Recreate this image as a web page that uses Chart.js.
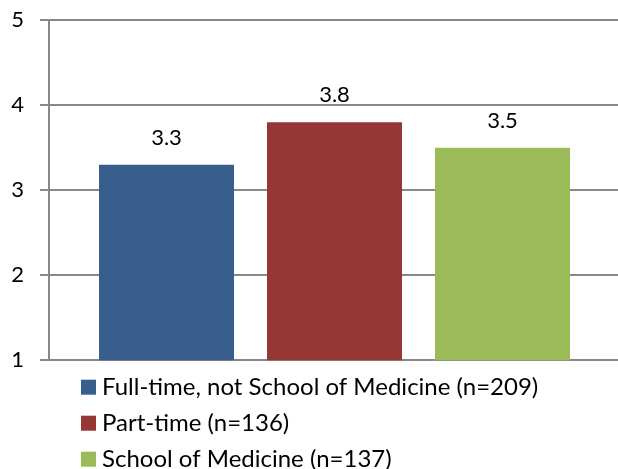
<!DOCTYPE html>
<html>
<head>
<meta charset="utf-8">
<script src="https://cdn.jsdelivr.net/npm/chart.js@4"></script>
<style>
  html, body { margin: 0; padding: 0; background: #fff; overflow: hidden; }
  #wrap { width: 618px; height: 469px; overflow: hidden; position: relative; }
  canvas { position: absolute; left: 0; top: 0; }
</style>
</head>
<body>
<div id="wrap"><canvas id="c" width="630" height="500"></canvas></div>
<script>
// Mean score for each faculty group
const categories = [''];
const seriesLabels = [
  'Full-time, not School of Medicine (n=209)',
  'Part-time (n=136)',
  'School of Medicine (n=137)'
];
const seriesValues = [3.3, 3.8, 3.5];
const seriesColors = ['#385E8E', '#953735', '#9BBB59'];
const yTicks = [1, 2, 3, 4, 5];

const FONT = 'Lato, "Open Sans", sans-serif';
const PLOT_TOP = 20, PLOT_BOTTOM = 360, AXIS_X = 49;

// value labels above each bar
const valueLabels = {
  id: 'valueLabels',
  afterDatasetsDraw(chart) {
    const ctx = chart.ctx;
    ctx.save();
    ctx.font = '22px ' + FONT;
    ctx.fillStyle = '#000';
    ctx.textAlign = 'center';
    ctx.textBaseline = 'middle';
    chart.data.datasets.forEach((ds, i) => {
      chart.getDatasetMeta(i).data.forEach((bar, j) => {
        ctx.fillText(ds.data[j].toFixed(1), bar.x, bar.y - 27);
      });
    });
    ctx.restore();
  }
};

// vertical legend below the plot
const stackedLegend = {
  id: 'stackedLegend',
  afterDraw(chart) {
    const ctx = chart.ctx;
    const area = chart.chartArea;
    ctx.save();
    ctx.font = '24px ' + FONT;
    ctx.textAlign = 'left';
    ctx.textBaseline = 'middle';
    chart.data.datasets.forEach((ds, i) => {
      const cy = area.bottom + 27 + i * 36;
      const x0 = area.left + 32;
      ctx.fillStyle = ds.backgroundColor;
      ctx.fillRect(x0, cy - 7.5, 15, 15);
      ctx.fillStyle = '#000';
      ctx.fillText(ds.label, x0 + 21, cy);
    });
    ctx.restore();
  }
};

const canvas = document.getElementById('c');
const chart = new Chart(canvas, {
  type: 'bar',
  data: {
    labels: categories,
    datasets: seriesLabels.map((label, i) => ({
      label: label,
      data: [seriesValues[i]],
      backgroundColor: seriesColors[i],
      borderWidth: 0,
      barPercentage: 0.8036,
      categoryPercentage: 0.8827
    }))
  },
  options: {
    responsive: false,
    animation: false,
    devicePixelRatio: 1,
    layout: { padding: { top: 0, right: 10, bottom: 109, left: 0 } },
    plugins: {
      legend: { display: false },
      tooltip: { enabled: false },
      title: { display: false }
    },
    scales: {
      x: { display: false },
      y: {
        min: yTicks[0],
        max: yTicks[yTicks.length - 1],
        afterBuildTicks(axis) { axis.ticks = yTicks.map(v => ({ value: v })); },
        afterFit(axis) { axis.width = AXIS_X; },
        grid: { color: '#888888', lineWidth: 2, tickLength: 9 },
        border: { color: '#888888', width: 2 },
        ticks: {
          color: '#000',
          padding: 16,
          font: { family: FONT, size: 22 }
        }
      }
    }
  },
  plugins: [valueLabels, stackedLegend]
});

// fit the plot height to the frame, then slide the canvas so the plot top sits at PLOT_TOP
const a0 = chart.chartArea;
chart.options.layout.padding.bottom += (a0.bottom - a0.top) - (PLOT_BOTTOM - PLOT_TOP);
chart.update();
canvas.style.top = (PLOT_TOP - chart.chartArea.top) + 'px';
</script>
</body>
</html>
